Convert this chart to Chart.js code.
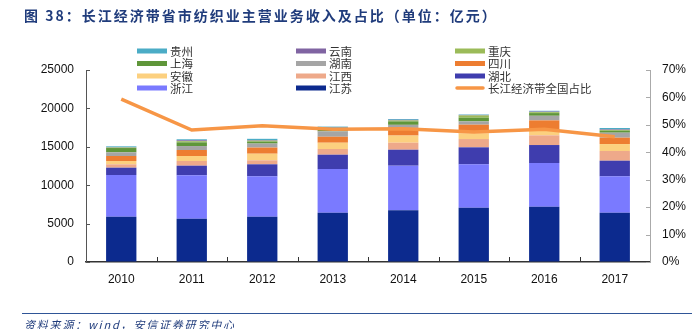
<!DOCTYPE html>
<html>
<head>
<meta charset="utf-8">
<script src="https://cdn.jsdelivr.net/npm/chart.js@4"></script>
<style>
  html, body { margin: 0; padding: 0; background: #fff; }
  #wrap { position: relative; width: 700px; height: 329px; overflow: hidden; }
  #chart { position: absolute; left: 0; top: 0; }
  .title {
    position: absolute; left: 24px; top: 5px;
    font: bold 14px "Noto Sans CJK SC", sans-serif; letter-spacing: 2px;
    color: #203c7c; white-space: nowrap;
  }
  .rule { position: absolute; left: 22px; top: 313px; width: 670px; height: 0; border-top: 1.5px solid #2f5597; }
  .source {
    position: absolute; left: 24px; top: 316px;
    font: italic 11px "Noto Sans CJK SC", sans-serif; letter-spacing: 1.8px;
    color: #203c7c; white-space: nowrap;
  }
</style>
</head>
<body>
<div id="wrap">
  <canvas id="chart" width="700" height="329"></canvas>
  <div class="title">图 38：长江经济带省市纺织业主营业务收入及占比（单位：亿元）</div>
  <div class="rule"></div>
  <div class="source">资料来源：wind，安信证券研究中心</div>
</div>
<script>
// values (亿元), stack order bottom -> top
const years = ["2010", "2011", "2012", "2013", "2014", "2015", "2016", "2017"]
const jiangsu = [5900, 5640, 5900, 6420, 6730, 7070, 7200, 6420]
const zhejiang = [5430, 5650, 5260, 5690, 5810, 5650, 5690, 4740]
const hubei = [950, 1250, 1560, 1860, 2080, 2210, 2340, 2030]
const jiangxi = [440, 610, 520, 740, 910, 1080, 1260, 1260]
const anhui = [430, 650, 860, 820, 930, 750, 650, 910]
const sichuan = [650, 780, 800, 780, 1000, 1120, 1300, 830]
const hunan = [480, 520, 520, 700, 400, 430, 600, 650]
const shanghai = [560, 480, 260, 250, 450, 480, 350, 260]
const chongqing = [60, 150, 120, 120, 120, 300, 120, 100]
const yunnan = [40, 120, 80, 100, 80, 60, 80, 80]
const guizhou = [120, 130, 160, 150, 110, 60, 100, 170]
// 长江经济带全国占比 (%)
const share = [59.4, 48.1, 49.7, 48.4, 48.6, 47.4, 48.4, 45.7]

const leftTicks = [0, 5000, 10000, 15000, 20000, 25000]

const bar = (label, data, color) => ({
  type: "bar",
  label: label,
  data: data,
  backgroundColor: color,
  yAxisID: "y",
  stack: "s",
  categoryPercentage: 1,
  barPercentage: 0.43
})

const barSets = [
  bar("江苏", jiangsu, "#0c2a8e"),
  bar("浙江", zhejiang, "#7a7aff"),
  bar("湖北", hubei, "#3f3dae"),
  bar("江西", jiangxi, "#eea98a"),
  bar("安徽", anhui, "#fcd07f"),
  bar("四川", sichuan, "#ed7d31"),
  bar("湖南", hunan, "#a5a5a5"),
  bar("上海", shanghai, "#5f963a"),
  bar("重庆", chongqing, "#9bbb59"),
  bar("云南", yunnan, "#8064a2"),
  bar("贵州", guizhou, "#4bacc6")
]

const lineSet = {
  type: "line",
  label: "长江经济带全国占比",
  data: share,
  borderColor: "#f79646",
  backgroundColor: "#f79646",
  borderWidth: 3.5,
  pointRadius: 0,
  tension: 0,
  yAxisID: "y1"
}

// legend: three columns, top-of-stack first, line last
const legendPlugin = {
  id: "gridLegend",
  afterDraw(chart) {
    const ctx = chart.ctx
    const items = barSets.slice().reverse().concat([lineSet])
    const colX = [137, 296, 455]
    const rowY = [51, 63.5, 76, 88]
    ctx.save()
    ctx.font = '11.5px "Noto Sans CJK SC", sans-serif'
    ctx.textBaseline = "middle"
    items.forEach((it, i) => {
      const x = colX[i % 3]
      const y = rowY[Math.floor(i / 3)]
      if (it.type === "line") {
        ctx.strokeStyle = it.borderColor
        ctx.lineWidth = 3.5
        ctx.lineCap = "round"
        ctx.beginPath()
        ctx.moveTo(x + 2, y)
        ctx.lineTo(x + 28, y)
        ctx.stroke()
      } else {
        ctx.fillStyle = it.backgroundColor
        ctx.fillRect(x, y - 2.5, 30, 5)
      }
      ctx.fillStyle = "#333"
      ctx.fillText(it.label, x + 33, y + 0.5)
    })
    ctx.restore()
  }
}

// short tick marks pointing into the plot
const innerTicks = {
  id: "innerTicks",
  afterDraw(chart) {
    const ctx = chart.ctx
    const {left, right, bottom} = chart.chartArea
    const sx = chart.scales.x, sy = chart.scales.y, sy1 = chart.scales.y1
    ctx.save()
    ctx.lineWidth = 1
    ctx.strokeStyle = "#555"
    sy.ticks.forEach(t => {
      const p = Math.round(sy.getPixelForValue(t.value)) + 0.5
      ctx.beginPath(); ctx.moveTo(left, p); ctx.lineTo(left + 4, p); ctx.stroke()
    })
    ctx.strokeStyle = "#aaa"
    sy1.ticks.forEach(t => {
      const p = Math.round(sy1.getPixelForValue(t.value)) + 0.5
      ctx.beginPath(); ctx.moveTo(right, p); ctx.lineTo(right - 4, p); ctx.stroke()
    })
    ctx.strokeStyle = "#333"
    const half = (sx.getPixelForValue(1) - sx.getPixelForValue(0)) / 2
    for (let i = 1; i < years.length; i++) {
      const p = Math.round(sx.getPixelForValue(i) - half) + 0.5
      ctx.beginPath(); ctx.moveTo(p, bottom); ctx.lineTo(p, bottom - 5); ctx.stroke()
    }
    ctx.restore()
  }
}

const tickFont = {family: '"Liberation Sans", Arial, sans-serif', size: 12}

new Chart(document.getElementById("chart"), {
  data: {
    labels: years,
    datasets: [lineSet].concat(barSets)
  },
  options: {
    responsive: false,
    animation: false,
    layout: {padding: {top: 70, left: 0, right: 0, bottom: 0}},
    plugins: {legend: {display: false}, tooltip: {enabled: false}},
    scales: {
      x: {
        stacked: true,
        offset: true,
        grid: {display: true, drawOnChartArea: false, drawTicks: false},
        border: {display: true, color: "#333", width: 1.5},
        ticks: {color: "#111", font: tickFont, padding: 10},
        afterFit: s => { s.height = 67 }
      },
      y: {
        position: "left",
        stacked: true,
        min: 0,
        max: 25000,
        afterBuildTicks: s => { s.ticks = leftTicks.map(v => ({value: v})) },
        grid: {display: true, drawOnChartArea: false, drawTicks: false},
        border: {display: true, color: "#555", width: 1},
        ticks: {color: "#111", font: tickFont, padding: 12, callback: v => String(v)},
        afterFit: s => { s.width = 86 }
      },
      y1: {
        position: "right",
        min: 0,
        max: 70,
        grid: {display: true, drawOnChartArea: false, drawTicks: false},
        border: {display: true, color: "#aaa", width: 1},
        ticks: {color: "#111", font: tickFont, padding: 12, stepSize: 10, callback: v => v + "%"},
        afterFit: s => { s.width = 50 }
      }
    }
  },
  plugins: [legendPlugin, innerTicks]
})
</script>
</body>
</html>
